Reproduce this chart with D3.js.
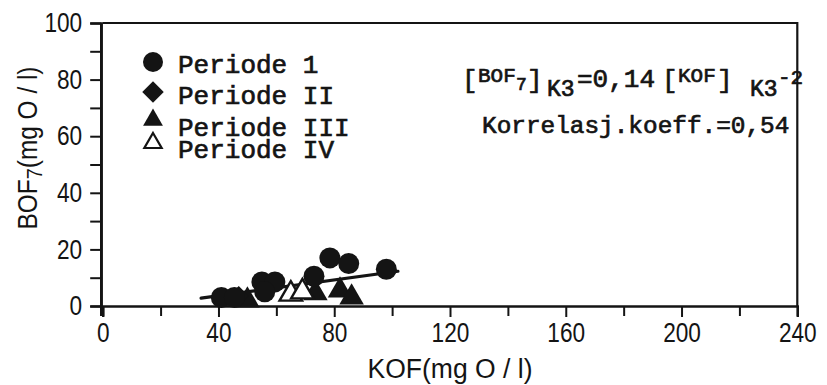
<!DOCTYPE html>
<html>
<head>
<meta charset="utf-8">
<script src="https://cdn.jsdelivr.net/npm/d3@7"></script>
<style>
  html, body { margin: 0; padding: 0; background: #fff; }
  svg { display: block; }
  .num { font-family: "Liberation Sans", "DejaVu Sans", sans-serif; fill: #141414; }
  .mono { font-family: "Liberation Mono", "DejaVu Sans Mono", monospace; fill: #141414; stroke: #141414; stroke-width: 0.7px; }
</style>
</head>
<body>
<svg id="chart" width="827" height="385"></svg>
<script>
// Axis ticks
const xMajorTicks = [0, 40, 80, 120, 160, 200, 240];
const xMinorTicks = [20, 60, 100, 140, 180, 220];
const yMajorTicks = [0, 20, 40, 60, 80, 100];
const yMinorTicks = [10, 30, 50, 70, 90];

// Measurements, [KOF, BOF7] in mg O/l
const periode1 = [[41, 3], [45.5, 3], [55, 8.5], [59.5, 8.5], [56, 5], [73, 10.5], [78.5, 17], [85, 15], [98, 13]];
const periode2 = [[47, 3.5]];
const periode3 = [[50, 2], [73.5, 4.5], [82, 5.5], [86, 3]];
const periode4 = [[65, 4.2], [69, 5]];

// Regression BOF7 = a*KOF + b over the measured KOF range
const regSlope = 0.14;
const regIntercept = -2;
const regRange = [34, 102];

const legendLabels = ["Periode 1", "Periode II", "Periode III", "Periode IV"];

const svg = d3.select("#chart");
const ink = "#141414";
const digitWidth = 12.6;   // condensed figure width for the axis lettering

const x = d3.scaleLinear().domain([0, 240]).range([102.7, 797.3]);
const y = d3.scaleLinear().domain([0, 100]).range([306, 23]);

// Frame (top and right edges)
svg.append("path")
  .attr("d", `M${x(0)},${y(100)} H${x(240)} V${y(0)}`)
  .attr("fill", "none").attr("stroke", ink).attr("stroke-width", 2.2);

function condense(sel) {
  sel.attr("class", "num").attr("font-size", 27).attr("fill", ink)
    .attr("lengthAdjust", "spacingAndGlyphs")
    .attr("textLength", function () { return this.textContent.length * digitWidth; });
}

// X axis
const xAxis = svg.append("g").attr("transform", `translate(0,${y(0)})`);
xAxis.call(d3.axisBottom(x).tickValues(xMajorTicks).tickSize(11).tickPadding(6).tickFormat(d3.format("d")));
xAxis.append("g").call(d3.axisBottom(x).tickValues(xMinorTicks).tickSize(10).tickFormat(""));
xAxis.selectAll(".domain").attr("stroke", ink).attr("stroke-width", 2.2);
xAxis.selectAll("line").attr("stroke", ink).attr("stroke-width", 2);
xAxis.selectAll("text").call(condense);

// Y axis
const yAxis = svg.append("g").attr("transform", `translate(${x(0) - 1.5},0)`);
yAxis.call(d3.axisLeft(y).tickValues(yMajorTicks).tickSize(11).tickPadding(8).tickFormat(d3.format("d")));
yAxis.append("g").call(d3.axisLeft(y).tickValues(yMinorTicks).tickSize(11).tickFormat(""));
yAxis.selectAll(".domain").attr("stroke", ink).attr("stroke-width", 2.4);
yAxis.selectAll("line").attr("stroke", ink).attr("stroke-width", 2);
yAxis.selectAll("text").call(condense);
yAxis.select(".domain").attr("d", `M0,${y(100)}V${y(0) + 10}`);

// Axis titles
svg.append("text").attr("class", "num")
  .attr("x", x(120)).attr("y", 378).attr("text-anchor", "middle").attr("font-size", 27)
  .attr("lengthAdjust", "spacingAndGlyphs").attr("textLength", 165)
  .text("KOF(mg O / l)");

const yTitle = svg.append("text").attr("class", "num")
  .attr("transform", "translate(37,148) rotate(-90)")
  .attr("text-anchor", "middle").attr("font-size", 27)
  .attr("lengthAdjust", "spacingAndGlyphs").attr("textLength", 163);
yTitle.append("tspan").text("BOF");
yTitle.append("tspan").attr("dy", 5).attr("font-size", 22).text("7");
yTitle.append("tspan").attr("dy", -5).text("(mg O / l)");

// Regression line
svg.append("line")
  .attr("x1", x(regRange[0])).attr("y1", y(regSlope * regRange[0] + regIntercept))
  .attr("x2", x(regRange[1])).attr("y2", y(regSlope * regRange[1] + regIntercept))
  .attr("stroke", ink).attr("stroke-width", 3.2).attr("stroke-linecap", "round");

// Markers
const triSym = (size) => d3.symbol().type(d3.symbolTriangle).size(size)();
const diaSym = (size) => d3.symbol().type(d3.symbolSquare).size(size)();

const marks = svg.append("g");
marks.selectAll(".p3").data(periode3).join("path")
  .attr("d", triSym(260))
  .attr("transform", d => `translate(${x(d[0])},${y(d[1])})`)
  .attr("fill", ink);
marks.selectAll(".p4").data(periode4).join("path")
  .attr("d", triSym(220))
  .attr("transform", d => `translate(${x(d[0])},${y(d[1])})`)
  .attr("fill", "#fff").attr("stroke", ink).attr("stroke-width", 2.4);
marks.selectAll(".p2").data(periode2).join("path")
  .attr("d", diaSym(200))
  .attr("transform", d => `translate(${x(d[0])},${y(d[1])}) rotate(45)`)
  .attr("fill", ink);
marks.selectAll(".p1").data(periode1).join("circle")
  .attr("cx", d => x(d[0])).attr("cy", d => y(d[1])).attr("r", 10.5)
  .attr("fill", ink);

// Legend
const legendY = [62, 92, 120, 143];
const legendText = [73, 104, 136, 158];
const lg = svg.append("g");
lg.append("circle").attr("cx", 153).attr("cy", legendY[0]).attr("r", 10).attr("fill", ink);
lg.append("path").attr("d", diaSym(230)).attr("transform", `translate(153,${legendY[1]}) rotate(45)`).attr("fill", ink);
lg.append("path").attr("d", triSym(170)).attr("transform", `translate(153,${legendY[2]})`).attr("fill", ink);
lg.append("path").attr("d", triSym(130)).attr("transform", `translate(153,${legendY[3]})`)
  .attr("fill", "#fff").attr("stroke", ink).attr("stroke-width", 2.2);
lg.selectAll("text").data(legendLabels).join("text")
  .attr("class", "mono").attr("font-size", 26)
  .attr("x", 178).attr("y", (d, i) => legendText[i]).text(d => d);

// Regression annotation: [BOF7]K3 = 0,14 [KOF]K3 - 2
const eq = svg.append("text").attr("class", "mono");
const eqParts = [
  { x: 462, y: 88, size: 26, t: "[" },
  { x: 478, y: 82, size: 21, t: "BOF" },
  { x: 516, y: 90, size: 18, t: "7" },
  { x: 527, y: 88, size: 26, t: "]" },
  { x: 547, y: 96, size: 23, t: "K3" },
  { x: 577, y: 87, size: 26, t: "=0,14" },
  { x: 662, y: 88, size: 26, t: "[" },
  { x: 678, y: 82, size: 21, t: "KOF" },
  { x: 717, y: 88, size: 26, t: "]" },
  { x: 750, y: 96, size: 23, t: "K3" },
  { x: 778, y: 84, size: 21, t: "-2" }
];
eq.selectAll("tspan").data(eqParts).join("tspan")
  .attr("x", d => d.x).attr("y", d => d.y).attr("font-size", d => d.size).text(d => d.t);

svg.append("text").attr("class", "mono")
  .attr("x", 482).attr("y", 133).attr("font-size", 24.4)
  .text("Korrelasj.koeff.=0,54");
</script>
</body>
</html>
